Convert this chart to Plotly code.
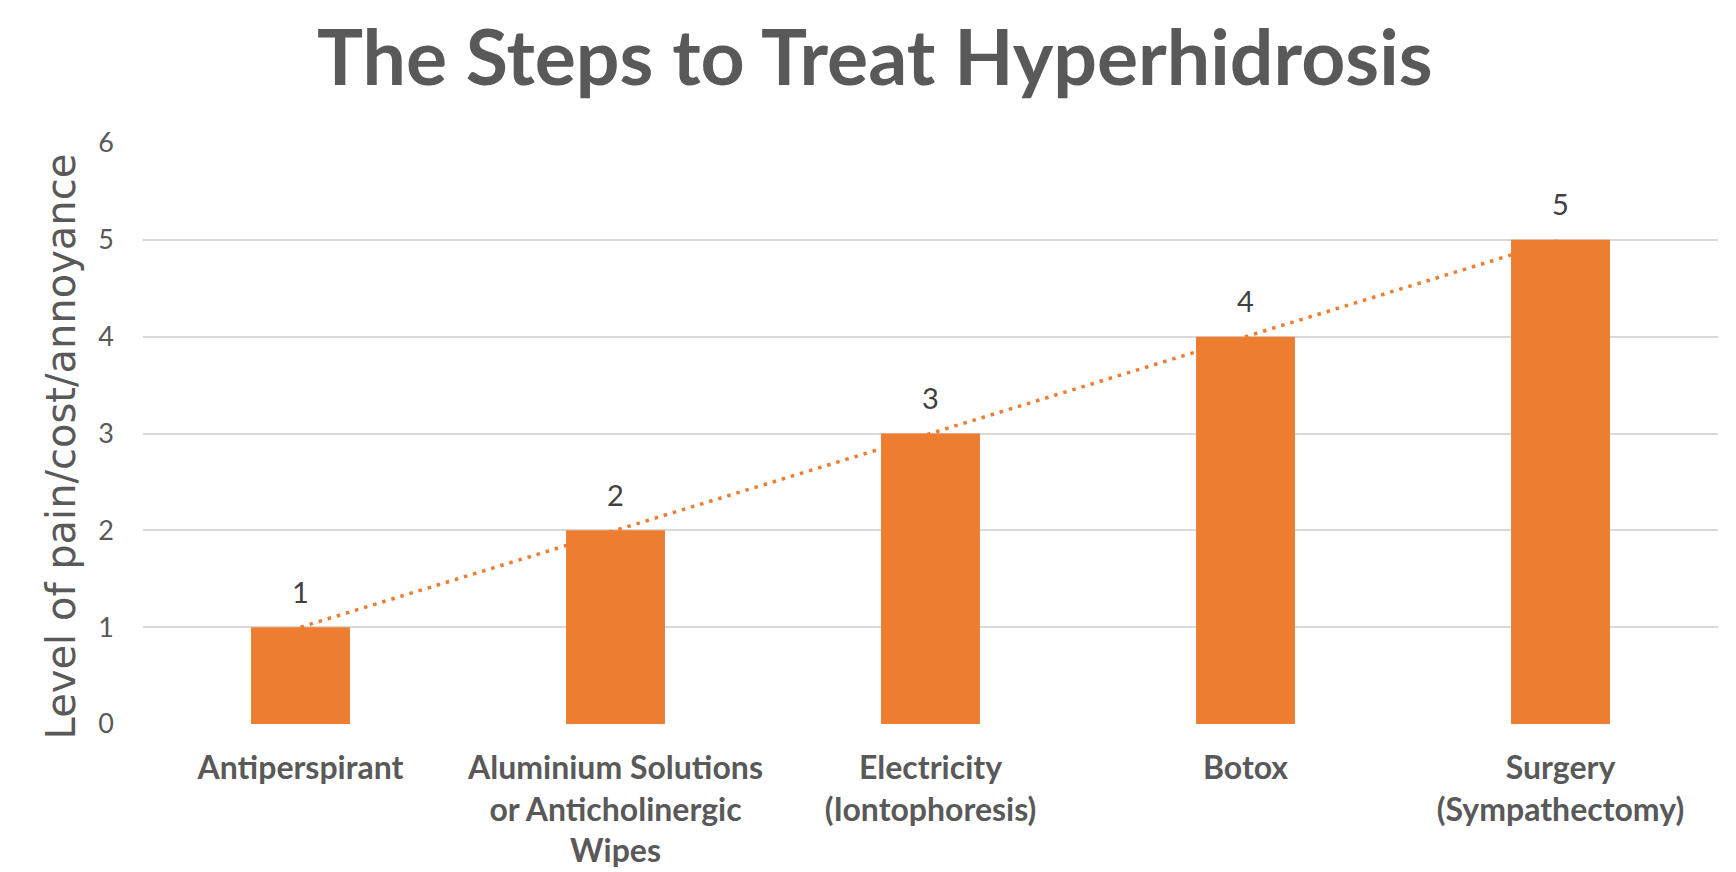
import numpy as np
import plotly.graph_objects as go

# chart data
categories = ["Antiperspirant", "Aluminium Solutions", "Electricity", "Botox", "Surgery"]
tick_labels = [
    "Antiperspirant",
    "Aluminium Solutions<br>or Anticholinergic<br>Wipes",
    "Electricity<br>(Iontophoresis)",
    "Botox",
    "Surgery<br>(Sympathectomy)",
]
levels = [1, 2, 3, 4, 5]
y_ticks = [0, 1, 2, 3, 4, 5, 6]

ORANGE = "#ED7D31"
GREY = "#595959"

# linear trendline fitted through the bar values
idx = np.arange(len(levels))
slope, intercept = np.polyfit(idx, levels, 1)
trend = slope * idx + intercept

fig = go.Figure()

# trendline sits on the main axis so the bars (overlay axis) are drawn over it
fig.add_trace(go.Scatter(
    x=categories, y=trend, mode="lines",
    line=dict(color=ORANGE, width=3.5, dash="3.5px,6px"),
    hoverinfo="skip", showlegend=False,
))

# data labels above the bars
fig.add_trace(go.Scatter(
    x=categories, y=levels, mode="markers+text",
    marker=dict(size=26, opacity=0),
    text=[str(v) for v in levels], textposition="top center",
    textfont=dict(family="Lato", size=29, color="#404040"),
    hoverinfo="skip", showlegend=False,
))

fig.add_trace(go.Bar(
    x=categories, y=levels, yaxis="y2",
    marker=dict(color=ORANGE, line=dict(width=0)),
    showlegend=False,
))

# page body has an 8px margin, so the figure is sized/offset to land on the reference
fig.update_layout(
    width=1720, height=864,
    autosize=False,
    paper_bgcolor="white", plot_bgcolor="white",
    margin=dict(l=135, r=10, t=135, b=148),
    bargap=0.686,
    title=dict(
        text="<b>The Steps to Treat Hyperhidrosis</b>",
        x=0.504, xanchor="center", y=1 - 50 / 864, yanchor="middle",
        font=dict(family="Lato", size=77, color=GREY),
    ),
    xaxis=dict(
        tickmode="array", tickvals=categories,
        ticktext=["<b>%s</b>" % t.replace("<br>", "</b><br><b>") for t in tick_labels],
        tickfont=dict(family="Lato", size=32, color=GREY),
        showgrid=False, showline=False, zeroline=False,
        ticks="", ticklabelstandoff=22, automargin=False,
    ),
    yaxis=dict(
        range=[0, 6], tickvals=y_ticks,
        tickfont=dict(family="Lato", size=27, color=GREY),
        showgrid=True, gridcolor="#D9D9D9", gridwidth=2,
        zeroline=False, showline=False, ticks="", ticklabelstandoff=28,
        automargin=False,
    ),
    yaxis2=dict(
        range=[0, 6], overlaying="y", side="left",
        showgrid=False, zeroline=False, showticklabels=False,
        showline=False, ticks="", automargin=False,
    ),
    annotations=[dict(
        text="Level of pain/cost/annoyance", textangle=-90,
        xref="paper", yref="paper", x=-0.052, y=0.478,
        xanchor="center", yanchor="middle", showarrow=False,
        font=dict(family="DejaVu Sans", size=40, color=GREY),
    )],
)

fig.write_html("out.html")
